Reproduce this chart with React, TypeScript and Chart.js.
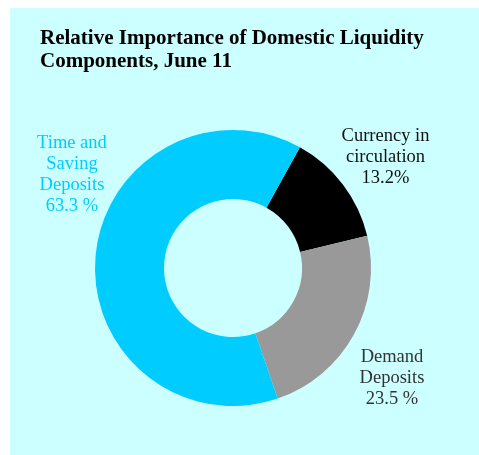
import React, { useEffect, useRef } from "react";
import { Chart, registerables } from "chart.js";

Chart.register(...registerables);

const titleLines = ["Relative Importance of Domestic Liquidity", "Components, June 11"];
const categories = ["Currency in circulation", "Demand Deposits", "Time and Saving Deposits"];
const shares = [13.2, 23.5, 63.3];
const percentTexts = ["13.2%", "23.5 %", "63.3 %"];
const labelLines = [
  ["Currency in", "circulation"],
  ["Demand", "Deposits"],
  ["Time and", "Saving", "Deposits"],
];
const sliceColors = ["#000000", "#999999", "#00CCFF"];
const labelColors = ["#111111", "#333333", "#00CCFF"];
// label anchor (first baseline) relative to doughnut centre, in units of outer radius
const labelAnchors = [
  [1.105, -0.917],
  [1.152, 0.678],
  [-1.167, -0.866],
];

const SERIF = "'Liberation Serif', 'Times New Roman', serif";

const overlayPlugin = {
  id: "overlay",
  afterDraw(chart: any) {
    const ctx = chart.ctx;
    ctx.save();
    ctx.fillStyle = "#000";
    ctx.font = `bold 21px ${SERIF}`;
    ctx.textAlign = "left";
    ctx.textBaseline = "alphabetic";
    titleLines.forEach((t, i) => ctx.fillText(t, 30, 36 + i * 23));

    const meta = chart.getDatasetMeta(0);
    ctx.font = `18.5px ${SERIF}`;
    ctx.textAlign = "center";
    meta.data.forEach((arc: any, i: number) => {
      const r = arc.outerRadius;
      const x = arc.x + labelAnchors[i][0] * r;
      const y = arc.y + labelAnchors[i][1] * r;
      ctx.fillStyle = labelColors[i];
      const lines = [...labelLines[i], percentTexts[i]];
      lines.forEach((l, j) => ctx.fillText(l, x, y + j * 21));
    });
    ctx.restore();
  },
};

export default function App() {
  const ref = useRef<HTMLCanvasElement>(null);
  useEffect(() => {
    if (!ref.current) return;
    const chart = new Chart(ref.current, {
      type: "doughnut",
      data: {
        labels: categories,
        datasets: [
          {
            data: shares,
            backgroundColor: sliceColors,
            borderWidth: 0,
            hoverOffset: 0,
          },
        ],
      },
      options: {
        responsive: false,
        animation: false,
        rotation: 29,
        cutout: "50%",
        layout: { padding: { left: 85, top: 122, right: 108, bottom: 49 } },
        plugins: {
          legend: { display: false },
          title: { display: false },
          tooltip: { enabled: false },
        },
      },
      plugins: [overlayPlugin],
    });
    return () => chart.destroy();
  }, []);
  return (
    <div
      style={{
        position: "absolute",
        left: 10,
        top: 8,
        width: 469,
        height: 447,
        background: "#CCFFFF",
      }}
    >
      <canvas ref={ref} width={469} height={447} style={{ display: "block" }} />
    </div>
  );
}
